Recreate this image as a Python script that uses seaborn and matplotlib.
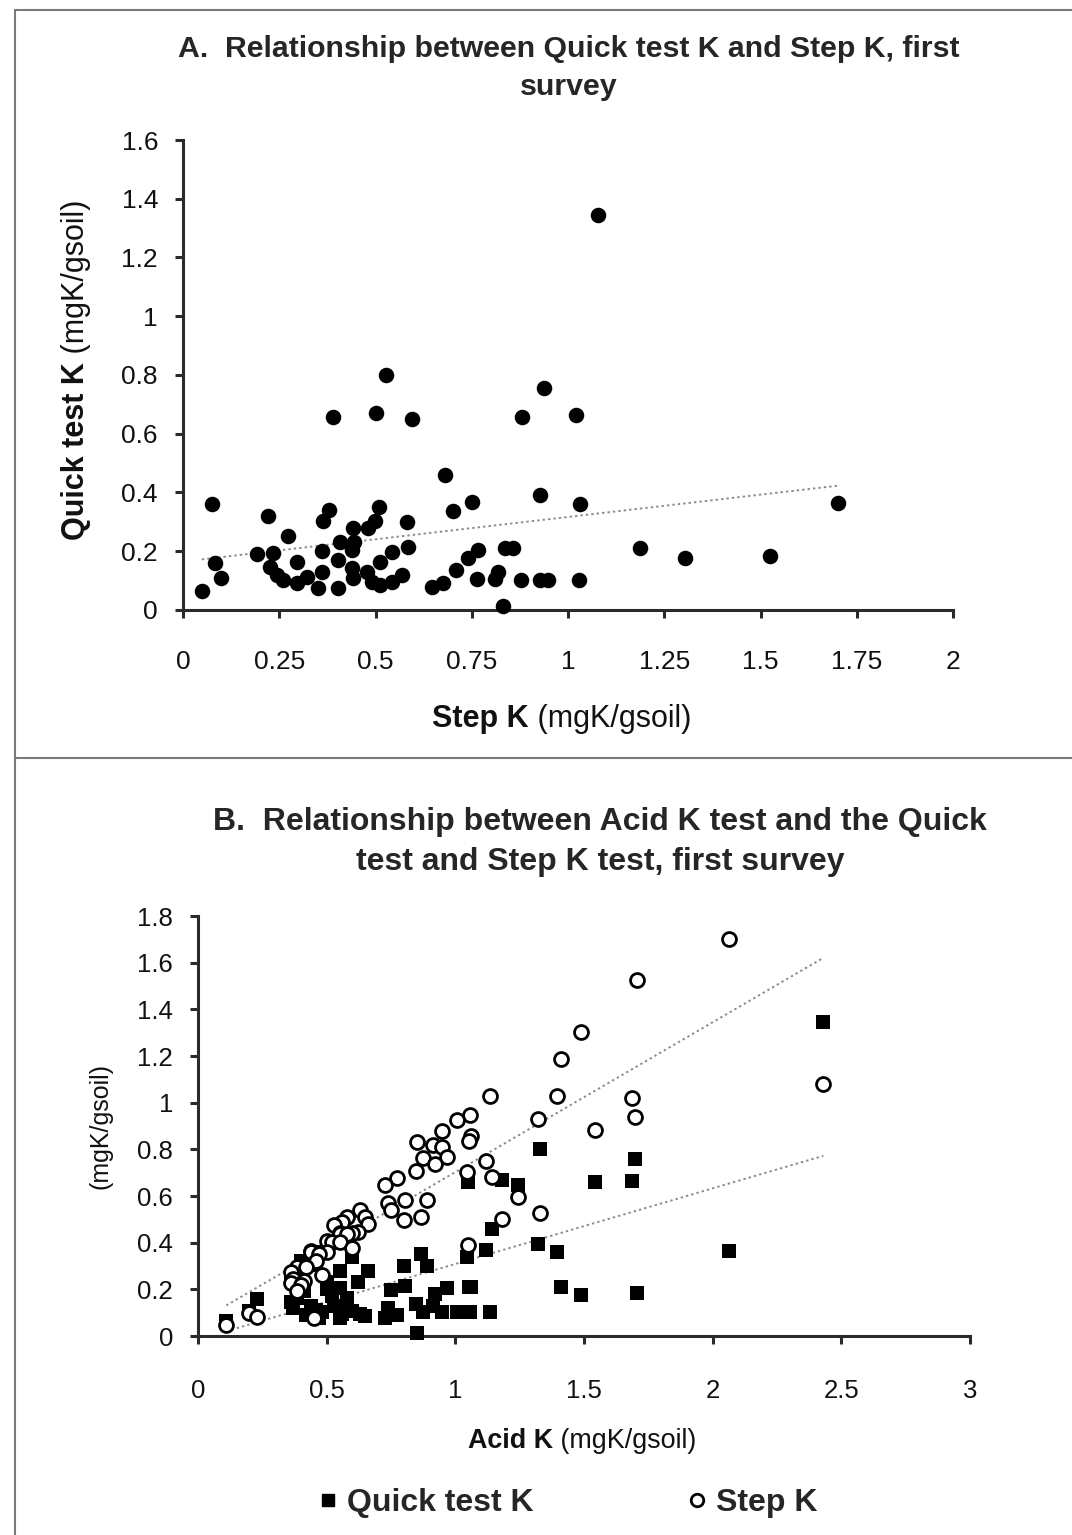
import numpy as np
import pandas as pd
import matplotlib
matplotlib.use("Agg")
import matplotlib.pyplot as plt
import seaborn as sns
from matplotlib.lines import Line2D
from matplotlib.ticker import FuncFormatter

sns.set_theme(style="white")
plt.rcParams["font.family"] = ["Liberation Sans", "DejaVu Sans"]

# Soil potassium, first survey (mgK/gsoil), one entry per sample
step_k = [1.078, 1.70, 1.525, 1.304, 1.187, 1.03, 0.938, 0.881, 1.02, 0.596,
          0.50, 0.928, 0.527, 0.389, 0.681, 0.751, 0.702, 1.029, 0.949, 0.927,
          0.878, 0.858, 0.836, 0.832, 0.819, 0.81, 0.767, 0.763, 0.739, 0.708,
          0.676, 0.646, 0.585, 0.583, 0.568, 0.542, 0.542, 0.509, 0.498, 0.512,
          0.512, 0.49, 0.481, 0.477, 0.445, 0.442, 0.442, 0.438, 0.438, 0.408,
          0.403, 0.403, 0.379, 0.364, 0.362, 0.36, 0.351, 0.321, 0.295, 0.295,
          0.274, 0.261, 0.243, 0.235, 0.226, 0.22, 0.191, 0.098, 0.083, 0.076,
          0.049]
quick_k = [1.345, 0.364, 0.184, 0.177, 0.211, 0.362, 0.757, 0.658, 0.663, 0.649,
           0.67, 0.393, 0.80, 0.658, 0.458, 0.369, 0.337, 0.102, 0.102, 0.102,
           0.102, 0.21, 0.21, 0.015, 0.128, 0.105, 0.204, 0.104, 0.178, 0.136,
           0.091, 0.079, 0.216, 0.30, 0.119, 0.196, 0.096, 0.352, 0.302, 0.164,
           0.085, 0.096, 0.28, 0.13, 0.233, 0.28, 0.108, 0.204, 0.142, 0.233,
           0.17, 0.076, 0.339, 0.303, 0.202, 0.13, 0.076, 0.113, 0.163, 0.091,
           0.253, 0.102, 0.119, 0.193, 0.147, 0.321, 0.19, 0.109, 0.159, 0.362,
           0.066]
acid_k = [2.43, 2.063, 1.706, 1.487, 1.409, 1.396, 1.697, 1.543, 1.686, 1.245,
          1.18, 1.323, 1.329, 1.05, 1.141, 1.12, 1.044, 1.133, 1.057, 1.005,
          0.95, 1.06, 1.054, 0.85, 0.914, 0.947, 0.966, 0.873, 0.921, 0.847,
          0.772, 0.727, 0.804, 0.889, 0.74, 0.75, 0.63, 0.865, 0.80, 0.58,
          0.65, 0.56, 0.66, 0.53, 0.62, 0.552, 0.60, 0.55, 0.58, 0.50,
          0.52, 0.55, 0.60, 0.44, 0.50, 0.44, 0.47, 0.46, 0.383, 0.42,
          0.36, 0.48, 0.37, 0.41, 0.36, 0.40, 0.383, 0.20, 0.23, 0.45,
          0.11]

df = pd.DataFrame({"step": step_k, "quick": quick_k, "acid": acid_k})

W, H = 1072, 1535
fig = plt.figure(figsize=(W / 100, H / 100), dpi=100)
fig.patch.set_facecolor("white")


def fx(px):
    return px / W


def fy(py):
    return 1 - py / H


axA = fig.add_axes([fx(183), fy(610), fx(953) - fx(183), fy(140) - fy(610)])
axB = fig.add_axes([fx(198), fy(1336), fx(970) - fx(198), fy(916) - fy(1336)])

AXIS_COL = "#2a2a2a"
TREND = dict(color="#8a8a8a", lw=1.4, ls=(0, (1.2, 1.6)))
num_fmt = FuncFormatter(lambda v, p: f"{v:g}")


def excel_axes(ax, tick_size, xpad):
    ax.set_facecolor("white")
    for s in ["top", "right"]:
        ax.spines[s].set_visible(False)
    for s in ["left", "bottom"]:
        ax.spines[s].set_color(AXIS_COL)
        ax.spines[s].set_linewidth(2.2)
    ax.tick_params(axis="both", direction="out", length=6, width=2.2,
                   color=AXIS_COL, labelsize=tick_size, labelcolor="#111",
                   left=True, bottom=True)
    ax.tick_params(axis="x", pad=xpad)
    ax.tick_params(axis="y", pad=12)
    ax.xaxis.set_major_formatter(num_fmt)
    ax.yaxis.set_major_formatter(num_fmt)
    ax.set_xlabel("")
    ax.set_ylabel("")
    ax.grid(False)


# Panel A: Quick test K against Step K
sns.scatterplot(data=df, x="step", y="quick", ax=axA, color="black",
                s=125, linewidth=0, clip_on=False, zorder=3, legend=False)
sns.regplot(data=df, x="step", y="quick", ax=axA, scatter=False, ci=None,
            line_kws=TREND)
axA.set_xlim(0, 2)
axA.set_ylim(0, 1.6)
axA.set_xticks(np.arange(0, 2.01, 0.25))
axA.set_yticks(np.arange(0, 1.61, 0.2))
excel_axes(axA, 19, 23)

# Panel B: Quick test K and Step K against Acid K
sns.regplot(data=df, x="acid", y="step", ax=axB, scatter=False, ci=None,
            line_kws=TREND)
sns.regplot(data=df, x="acid", y="quick", ax=axB, scatter=False, ci=None,
            line_kws=TREND)
sns.scatterplot(data=df, x="acid", y="quick", ax=axB, marker="s", color="black",
                s=100, linewidth=0, clip_on=False, zorder=3, legend=False)
sns.scatterplot(data=df, x="acid", y="step", ax=axB, marker="o",
                facecolor="white", edgecolor="black", s=100, linewidth=2.0,
                clip_on=False, zorder=4, legend=False)
axB.set_xlim(0, 3)
axB.set_ylim(0, 1.8)
axB.set_xticks(np.arange(0, 3.01, 0.5))
axB.set_yticks(np.arange(0, 1.81, 0.2))
excel_axes(axB, 18.5, 25)

# Titles
fig.text(fx(569), fy(68), "A.  Relationship between Quick test K and Step K, first\nsurvey",
         ha="center", va="center", fontsize=21.8, weight="bold", linespacing=1.45)
fig.text(fx(600), fy(842), "B.  Relationship between Acid K test and the Quick\ntest and Step K test, first survey",
         ha="center", va="center", fontsize=23, weight="bold", linespacing=1.42)

renderer = fig.canvas.get_renderer()


def two_part(x, y, bold, normal, size, rotation=0):
    t1 = fig.text(x, y, bold, fontsize=size, weight="bold", rotation=rotation,
                  rotation_mode="anchor", ha="left", va="baseline", color="#111")
    ext = t1.get_window_extent(renderer)
    if rotation == 0:
        fig.text(x + ext.width / W, y, " " + normal, fontsize=size,
                 rotation=0, rotation_mode="anchor", ha="left", va="baseline", color="#111")
    else:
        fig.text(x, y + ext.height / H, " " + normal, fontsize=size,
                 rotation=rotation, rotation_mode="anchor", ha="left", va="baseline",
                 color="#111")


two_part(fx(432), fy(727), "Step K", "(mgK/gsoil)", 22)
two_part(fx(84), fy(540), "Quick test K", "(mgK/gsoil)", 22, rotation=90)
two_part(fx(468), fy(1448), "Acid K", "(mgK/gsoil)", 19.4)
fig.text(fx(101), fy(1126), "(mgK/gsoil)", fontsize=18, rotation=90,
         ha="center", va="center", color="#111")

# Legend
handles = [
    Line2D([], [], marker="s", ls="none", color="black", markersize=9,
           label="Quick test K"),
    Line2D([], [], marker="o", ls="none", markerfacecolor="white",
           markeredgecolor="black", markeredgewidth=2, markersize=9,
           label="Step K"),
]
fig.legend(handles=handles, loc="center", bbox_to_anchor=(fx(568), fy(1503)),
           ncol=2, frameon=False, handlelength=0.6, handletextpad=0.3,
           columnspacing=4.8, prop=dict(size=23, weight="bold"))

# Outer frame lines
frame_kw = dict(color="#7a7a7a", lw=1.5, transform=fig.transFigure)
fig.add_artist(Line2D([fx(15), 1], [fy(10), fy(10)], **frame_kw))
fig.add_artist(Line2D([fx(15), fx(15)], [fy(10), 0], **frame_kw))
fig.add_artist(Line2D([fx(15), 1], [fy(758), fy(758)], **frame_kw))

fig.savefig("out.png", dpi=100, facecolor="white")
